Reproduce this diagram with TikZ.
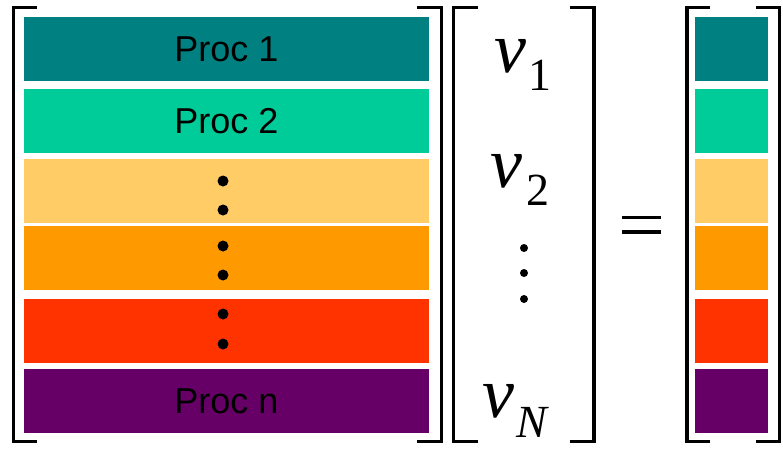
\documentclass[tikz,border=0pt]{standalone}
\usepackage{fontspec}
\setmainfont{Liberation Serif}
\setsansfont{Liberation Sans}
\begin{document}
\begin{tikzpicture}[x=1pt,y=-1pt,
  bar/.style={draw=none,inner sep=0pt,minimum width=405pt,minimum height=64pt,font=\sffamily\fontsize{36}{40}\selectfont},
  sbar/.style={draw=none,inner sep=0pt,minimum width=73pt,minimum height=64pt},
  brk/.style={line width=3.5pt,line cap=butt,line join=miter},
  dotm/.style={circle,fill=black,inner sep=0pt,minimum size=11pt},
  dotv/.style={circle,fill=black,inner sep=0pt,minimum size=8pt},
  vv/.style={inner sep=0pt,anchor=base west,font=\fontsize{72}{80}\selectfont\itshape},
  ss/.style={inner sep=0pt,anchor=base west,font=\fontsize{46}{50}\selectfont},
]
\definecolor{cA}{HTML}{008080}
\definecolor{cB}{HTML}{00CC99}
\definecolor{cC}{HTML}{FFCC66}
\definecolor{cD}{HTML}{FF9900}
\definecolor{cE}{HTML}{FF3300}
\definecolor{cF}{HTML}{660066}
\useasboundingbox (0,0) rectangle (783,450);
% left matrix bars
\node[bar,fill=cA] (b1) at (226.5,49) {Proc 1};
\node[bar,fill=cB] (b2) at (226.5,121) {Proc 2};
\node[bar,fill=cC] (b3) at (226.5,190.5) {};
\node[bar,fill=cD] (b4) at (226.5,258) {};
\node[bar,fill=cE] (b5) at (226.5,331) {};
\node[bar,fill=cF] (b6) at (226.5,401) {Proc n};
% dots
\node[dotm] (d1) at (223,181) {};
\node[dotm] (d2) at (223,210) {};
\node[dotm] (d3) at (223,246) {};
\node[dotm] (d4) at (223,275) {};
\node[dotm] (d5) at (223,314) {};
\node[dotm] (d6) at (223,344) {};
% brackets left matrix
\draw[brk] (37,7.5) -- (13.5,7.5) -- (13.5,441.5) -- (37,441.5);
\draw[brk] (417,7.5) -- (441.5,7.5) -- (441.5,441.5) -- (417,441.5);
% vector v
\draw[brk] (478,7.5) -- (453.5,7.5) -- (453.5,441.5) -- (478,441.5);
\draw[brk] (570,7.5) -- (594,7.5) -- (594,441.5) -- (570,441.5);
\node[vv] (v1) at (494,72) {v};
\node[ss] (s1) at (528,90) {1};
\node[vv] (v2) at (490,187) {v};
\node[ss] (s2) at (526,205) {2};
\node[vv] (vN) at (482,417) {v};
\node[ss,font=\fontsize{46}{50}\selectfont\itshape] (sN) at (516,437) {N};
\node[dotv] (e1) at (524,248) {};
\node[dotv] (e2) at (524,273) {};
\node[dotv] (e3) at (524,299) {};
% equals
\coordinate (q1) at (622,217.5);
\coordinate (q2) at (661,217.5);
\coordinate (q3) at (622,232);
\coordinate (q4) at (661,232);
\draw[line width=3.5pt] (q1) -- (q2);
\draw[line width=3.5pt] (q3) -- (q4);
% result vector
\draw[brk] (710,7.5) -- (687,7.5) -- (687,441.5) -- (710,441.5);
\draw[brk] (756,7.5) -- (779.5,7.5) -- (779.5,441.5) -- (756,441.5);
\node[sbar,fill=cA] (r1) at (731.5,49) {};
\node[sbar,fill=cB] (r2) at (731.5,121) {};
\node[sbar,fill=cC] (r3) at (731.5,190.5) {};
\node[sbar,fill=cD] (r4) at (731.5,258) {};
\node[sbar,fill=cE] (r5) at (731.5,331) {};
\node[sbar,fill=cF] (r6) at (731.5,401) {};
\end{tikzpicture}
\end{document}
